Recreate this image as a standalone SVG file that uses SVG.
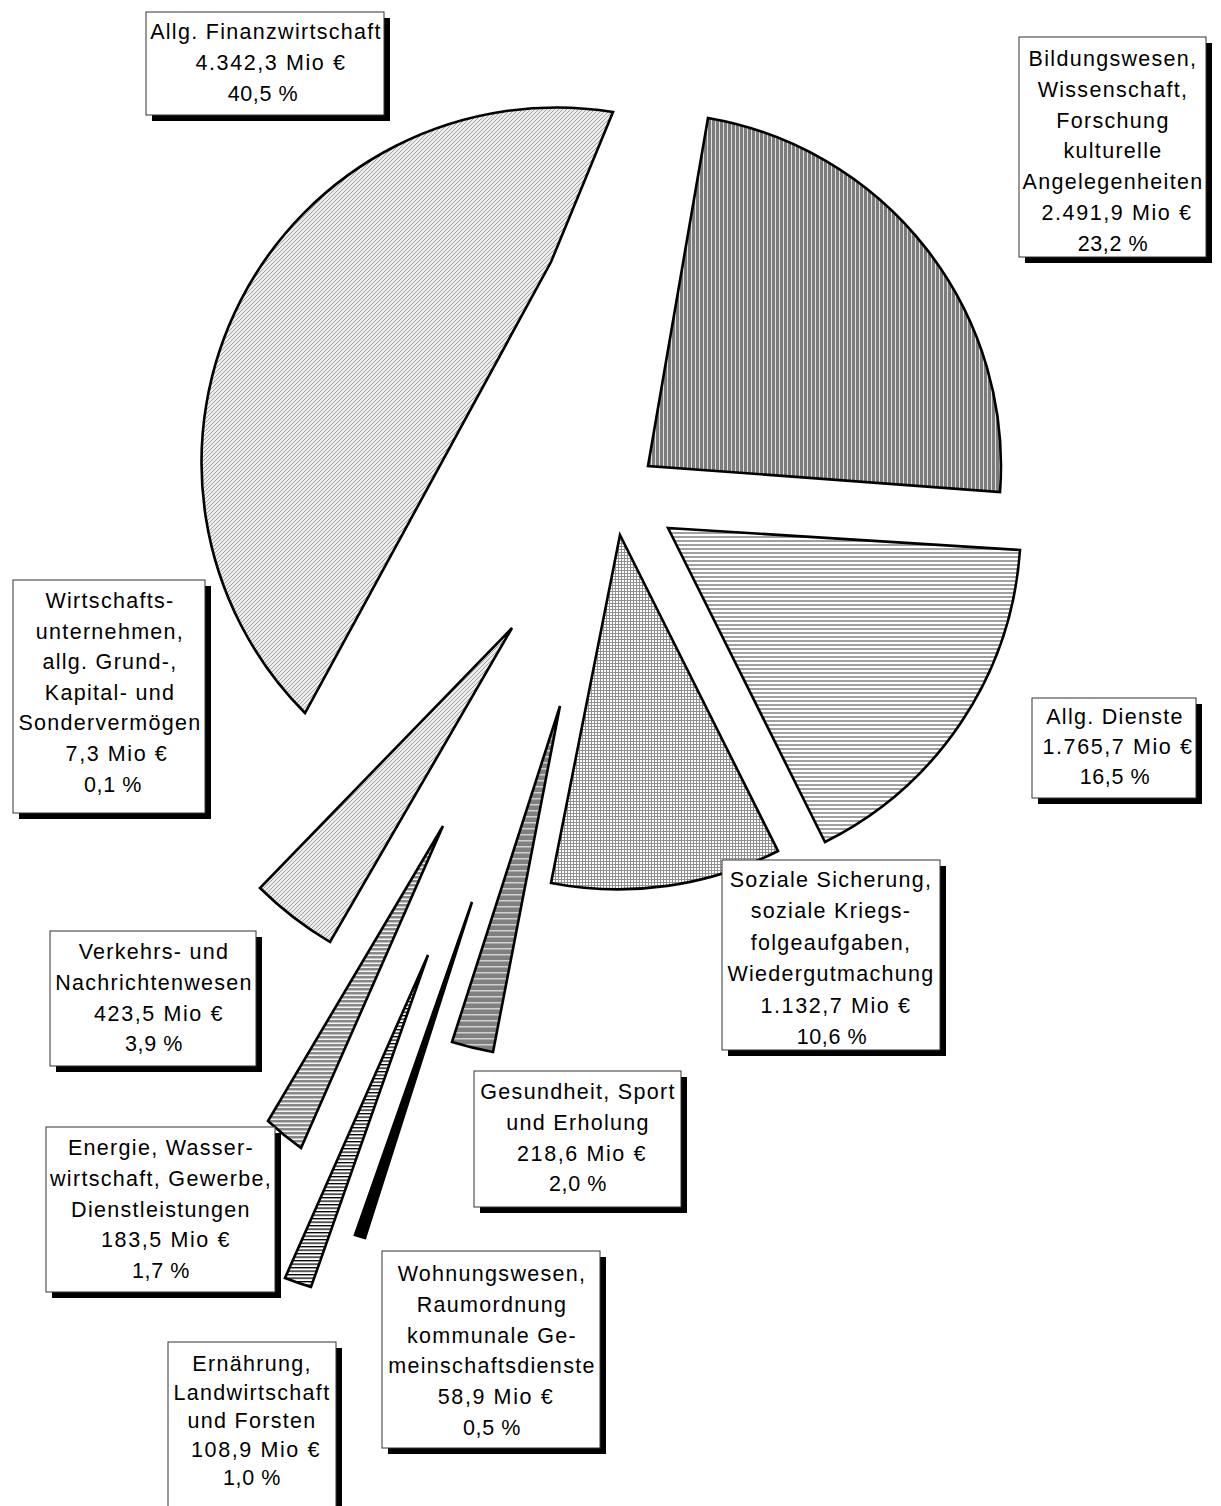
<svg xmlns="http://www.w3.org/2000/svg" width="1221" height="1506" viewBox="0 0 1221 1506">
<style>
.sl{stroke:#000;stroke-width:2.6;stroke-linejoin:miter}
.bx{fill:#fff;stroke:#333;stroke-width:1}
.sh{fill:#000}
text{font-family:"Liberation Sans",Arial,sans-serif;font-size:21.5px;fill:#000;text-anchor:middle;letter-spacing:1.3px}
text.m{letter-spacing:1.6px}
text.p{letter-spacing:0.6px}
</style>
<defs>
<pattern id="pDiag" width="4" height="4" patternUnits="userSpaceOnUse"><rect width="4" height="4" fill="#ececec"/><path d="M-1,1 L1,-1 M0,4 L4,0 M3,5 L5,3" stroke="#a4a4a4" stroke-width="1"/></pattern>
<pattern id="pVert" width="4" height="4" patternUnits="userSpaceOnUse"><rect width="4" height="4" fill="#7c7c7c"/><rect x="3" width="1" height="4" fill="#e0e0e0"/></pattern>
<pattern id="pHor" width="4" height="4" patternUnits="userSpaceOnUse"><rect width="4" height="4" fill="#fff"/><rect width="4" height="2" fill="#a0a0a0"/></pattern>
<pattern id="pGrid" width="3" height="3" patternUnits="userSpaceOnUse"><rect width="3" height="3" fill="#909090"/><rect x="1" y="1" width="2" height="2" fill="#fff"/></pattern>
<pattern id="pDarkH" width="6" height="6" patternUnits="userSpaceOnUse"><rect width="6" height="6" fill="#808080"/><rect width="6" height="1.5" fill="#d0d0d0"/></pattern>
<pattern id="pMidH" width="4" height="4" patternUnits="userSpaceOnUse"><rect width="4" height="4" fill="#f4f4f4"/><rect width="4" height="2.5" fill="#888"/></pattern>
<pattern id="pLad" width="3.5" height="3.5" patternUnits="userSpaceOnUse"><rect width="3.5" height="3.5" fill="#fff"/><rect width="3.5" height="1.3" fill="#000"/></pattern>
</defs>

<g id="connectors"></g>

<g id="finanz">
<path class="sl" fill="url(#pDiag)" d="M613,112 L551,262 L305,713 A355,355 0 0 1 613,112 Z"/>
<rect class="sh" x="152" y="18" width="238" height="103"/>
<rect class="bx" x="146" y="12" width="238" height="103"/>
<text x="266" y="39">Allg. Finanzwirtschaft</text>
<text class="m" x="271" y="70">4.342,3 Mio €</text>
<text class="p" x="263" y="101">40,5 %</text>
</g>

<g id="bildung">
<path class="sl" fill="url(#pVert)" d="M648,466 L708,118 A353,353 0 0 1 1000,492 Z"/>
<rect class="sh" x="1025" y="43" width="187" height="220"/>
<rect class="bx" x="1019" y="37" width="187" height="220"/>
<text x="1113" y="66">Bildungswesen,</text>
<text x="1113" y="96.8">Wissenschaft,</text>
<text x="1113" y="127.6">Forschung</text>
<text x="1113" y="158.4">kulturelle</text>
<text x="1113" y="189.2">Angelegenheiten</text>
<text class="m" x="1117" y="220">2.491,9 Mio €</text>
<text class="p" x="1113" y="251">23,2 %</text>
</g>

<g id="dienste">
<path class="sl" fill="url(#pHor)" d="M668,528 L1020,550 A353,353 0 0 1 825,842 Z"/>
<rect class="sh" x="1038" y="704" width="164" height="100"/>
<rect class="bx" x="1032" y="698" width="164" height="100"/>
<text x="1115" y="724">Allg. Dienste</text>
<text class="m" x="1118" y="754">1.765,7 Mio €</text>
<text class="p" x="1115" y="784">16,5 %</text>
</g>

<g id="soziale">
<path class="sl" fill="url(#pGrid)" d="M620,535 L778,851 A354,354 0 0 1 551,883 Z"/>
<rect class="sh" x="728" y="866" width="218" height="190"/>
<rect class="bx" x="722" y="860" width="218" height="190"/>
<text x="831" y="887">Soziale Sicherung,</text>
<text x="831" y="918">soziale Kriegs-</text>
<text x="831" y="949.5">folgeaufgaben,</text>
<text x="831" y="981">Wiedergutmachung</text>
<text class="m" x="836" y="1012.5">1.132,7 Mio €</text>
<text class="p" x="832" y="1044">10,6 %</text>
</g>

<g id="gesundheit">
<path class="sl" fill="url(#pDarkH)" d="M560,706 L493,1052 A353,353 0 0 1 452,1042 Z"/>
<rect class="sh" x="480" y="1077" width="207" height="136"/>
<rect class="bx" x="474" y="1071" width="207" height="136"/>
<text x="578" y="1099">Gesundheit, Sport</text>
<text x="578" y="1130">und Erholung</text>
<text class="m" x="582" y="1160.5">218,6 Mio €</text>
<text class="p" x="578" y="1191">2,0 %</text>
</g>

<g id="wohnung">
<path class="sl" fill="#000" d="M472,902 L365,1238 A353,353 0 0 1 355,1235 Z"/>
<rect class="sh" x="388" y="1257" width="218" height="197"/>
<rect class="bx" x="382" y="1251" width="218" height="197"/>
<text x="492" y="1281">Wohnungswesen,</text>
<text x="492" y="1312">Raumordnung</text>
<text x="492" y="1342.5">kommunale Ge-</text>
<text x="492" y="1373">meinschaftsdienste</text>
<text class="m" x="496" y="1404">58,9 Mio €</text>
<text class="p" x="492" y="1434.5">0,5 %</text>
</g>

<g id="ernaehrung">
<path class="sl" fill="url(#pLad)" d="M428,955 L311,1287 A353,353 0 0 1 285,1278 Z"/>
<rect class="sh" x="174" y="1348" width="168" height="170"/>
<rect class="bx" x="168" y="1342" width="168" height="170"/>
<text x="252" y="1371">Ernährung,</text>
<text x="252" y="1399.5">Landwirtschaft</text>
<text x="252" y="1428">und Forsten</text>
<text class="m" x="256" y="1456.5">108,9 Mio €</text>
<text class="p" x="252" y="1485">1,0 %</text>
</g>

<g id="energie">
<path class="sl" fill="url(#pMidH)" d="M443,826 L301,1148 A353,353 0 0 1 268,1121 Z"/>
<rect class="sh" x="52" y="1133" width="229" height="165"/>
<rect class="bx" x="46" y="1127" width="229" height="165"/>
<text x="161" y="1155">Energie, Wasser-</text>
<text x="161" y="1186">wirtschaft, Gewerbe,</text>
<text x="161" y="1216.5">Dienstleistungen</text>
<text class="m" x="166" y="1247">183,5 Mio €</text>
<text class="p" x="161" y="1278">1,7 %</text>
</g>

<g id="verkehr">
<path class="sl" fill="url(#pDiag)" d="M512,628 L330,942 A360,360 0 0 1 260,888 Z"/>
<rect class="sh" x="56" y="937" width="206" height="135"/>
<rect class="bx" x="50" y="931" width="206" height="135"/>
<text x="154" y="959">Verkehrs- und</text>
<text x="154" y="990">Nachrichtenwesen</text>
<text class="m" x="159" y="1020.5">423,5 Mio €</text>
<text class="p" x="154" y="1051">3,9 %</text>
</g>

<g id="wirtschaftsunternehmen">
<rect class="sh" x="19" y="586" width="192" height="233"/>
<rect class="bx" x="13" y="580" width="192" height="233"/>
<text x="110" y="608">Wirtschafts-</text>
<text x="110" y="638.6">unternehmen,</text>
<text x="110" y="669.2">allg. Grund-,</text>
<text x="110" y="699.8">Kapital- und</text>
<text x="110" y="730.4">Sondervermögen</text>
<text class="m" x="117" y="761">7,3 Mio €</text>
<text class="p" x="113" y="791.6">0,1 %</text>
</g>
</svg>
